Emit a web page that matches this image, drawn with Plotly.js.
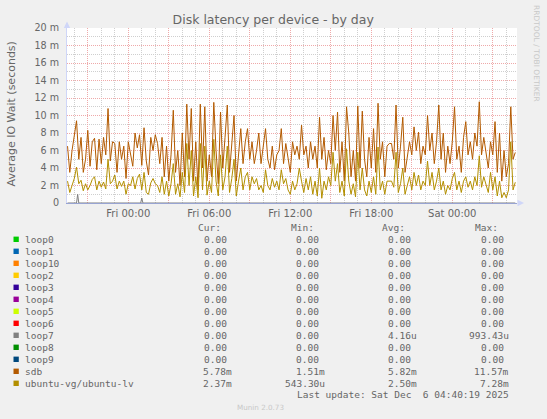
<!DOCTYPE html>
<html>
<head>
<meta charset="utf-8">
<script src="https://cdn.plot.ly/plotly-3.0.1.min.js"></script>
<style>
  html, body { margin: 0; padding: 0; background: #F0F0F0; }
  #chart { width: 547px; height: 419px; }
</style>
</head>
<body>
<div id="chart"></div>
<script>
// ---------------- DATA ----------------
// 10-minute samples, Thu 2025-12-04 19:30 .. Sat 2025-12-06 04:40 (values in milliseconds)
const sampleStart = '2025-12-04 19:30';
const sampleStepMinutes = 10;

const sdbValues = [
  6.5,3.5,6.0,8.0,9.4,5.0,7.5,3.5,5.0,8.3,4.2,7.0,7.4,3.8,7.3,4.5,7.5,5.5,10.8,4.8,
  7.0,6.8,3.5,7.0,5.0,6.5,2.8,7.0,5.8,4.2,8.0,6.3,7.8,4.3,8.6,4.8,3.2,7.5,6.0,7.8,
  6.8,4.5,7.5,3.0,6.5,2.5,5.5,10.6,3.5,6.0,2.0,8.0,3.0,11.3,5.0,10.8,2.5,7.0,1.51,11.3,
  4.0,11.0,2.5,5.5,3.0,11.5,6.0,2.2,10.4,4.0,7.5,11.2,3.5,6.5,10.0,2.5,5.5,8.5,4.5,7.0,
  8.5,5.0,7.0,4.5,6.0,8.0,4.5,6.5,8.5,5.0,4.0,6.5,3.8,5.5,6.0,8.5,4.5,6.8,5.0,3.5,
  7.0,5.5,6.5,5.0,8.9,5.5,6.5,4.0,7.0,5.0,6.5,4.0,9.8,5.0,7.5,3.8,6.0,4.5,10.0,6.0,
  10.4,3.5,7.0,2.5,11.0,8.0,3.0,6.0,2.5,11.1,4.0,10.5,5.0,3.0,7.5,4.0,8.5,3.5,11.4,5.0,
  7.0,3.0,6.5,6.8,6.8,5.0,11.2,4.0,6.5,9.8,3.5,5.5,7.0,5.5,8.7,6.0,8.1,4.5,6.5,5.5,
  10.0,6.0,8.0,4.5,7.0,11.2,5.0,8.0,3.5,6.5,4.5,7.0,11.0,5.0,6.5,3.5,7.5,9.3,5.5,7.0,
  5.0,8.0,6.5,11.57,5.5,7.5,6.0,4.0,7.0,5.5,9.3,3.5,8.0,2.5,6.0,3.0,4.5,11.0,5.0,5.78
];

const ubuntuLvValues = [
  2.5,1.2,2.0,2.8,4.1,2.2,2.6,1.4,2.2,1.5,2.0,2.7,3.0,1.5,2.5,1.8,2.4,1.6,5.0,2.2,
  2.5,3.2,1.6,2.5,1.9,2.5,1.0,2.2,2.0,3.0,1.6,2.8,3.3,1.5,3.5,1.2,1.0,2.3,2.8,2.2,
  2.0,1.2,3.0,1.0,2.5,0.8,2.2,4.5,1.0,2.2,0.7,3.5,1.2,6.8,2.0,6.0,0.8,3.0,0.6,6.8,
  1.5,6.5,0.9,2.5,1.2,7.28,2.5,0.8,5.5,1.5,3.0,6.5,1.2,2.8,5.0,0.8,2.5,4.0,1.5,3.0,
  3.5,1.5,3.0,2.2,2.8,1.5,2.0,1.2,3.8,2.0,1.5,2.8,1.8,2.5,1.5,3.8,2.2,2.8,1.5,1.0,
  2.5,1.5,2.2,4.0,2.5,1.2,2.8,1.5,3.0,1.0,2.5,0.8,4.0,0.54,2.5,1.5,3.0,2.0,5.8,2.5,
  4.5,1.2,2.5,0.8,6.2,2.5,1.0,2.2,0.7,5.8,1.5,4.0,1.5,0.8,2.5,1.2,3.0,1.0,6.4,1.5,
  2.5,1.0,2.5,2.5,2.5,1.8,5.8,1.2,2.2,4.0,1.0,2.0,3.0,1.5,3.5,2.0,3.2,1.5,2.5,2.0,
  4.8,2.0,3.5,1.5,2.5,4.0,1.5,2.5,1.0,2.0,1.5,2.8,3.5,1.5,2.5,1.2,2.5,3.0,1.8,2.5,
  1.5,3.0,2.0,5.4,1.8,3.0,2.0,1.2,3.5,1.5,3.0,0.8,2.5,0.6,1.2,0.6,1.5,7.0,1.5,2.37
];

// loop7: zero except two short spikes
const loop7Times  = ['2025-12-04 19:30','2025-12-04 20:10','2025-12-04 20:15','2025-12-04 20:20',
                     '2025-12-05 00:55','2025-12-05 01:00','2025-12-05 01:05','2025-12-06 04:40'];
const loop7Values = [0, 0, 0.99, 0, 0, 0.57, 0, 0];

// axis ticks
const xTickVals = ['2025-12-04 21:00','2025-12-05 00:00','2025-12-05 03:00','2025-12-05 06:00',
                   '2025-12-05 09:00','2025-12-05 12:00','2025-12-05 15:00','2025-12-05 18:00',
                   '2025-12-05 21:00','2025-12-06 00:00','2025-12-06 03:00'];
const xTickText = ['','Fri 00:00','','Fri 06:00','','Fri 12:00','','Fri 18:00','','Sat 00:00',''];
const yTickVals = [0,2,4,6,8,10,12,14,16,18,20];
const yTickText = ['0','2 m','4 m','6 m','8 m','10 m','12 m','14 m','16 m','18 m','20 m'];

// legend table
const legendNames = ['loop0','loop1','loop10','loop2','loop3','loop4','loop5','loop6',
                     'loop7','loop8','loop9','sdb','ubuntu-vg/ubuntu-lv'];
const legendCur = ['0.00','0.00','0.00','0.00','0.00','0.00','0.00','0.00','0.00','0.00','0.00','5.78m','2.37m'];
const legendMin = ['0.00','0.00','0.00','0.00','0.00','0.00','0.00','0.00','0.00','0.00','0.00','1.51m','543.30u'];
const legendAvg = ['0.00','0.00','0.00','0.00','0.00','0.00','0.00','0.00','4.16u','0.00','0.00','5.82m','2.50m'];
const legendMax = ['0.00','0.00','0.00','0.00','0.00','0.00','0.00','0.00','993.43u','0.00','0.00','11.57m','7.28m'];

// ---------------- STYLE ----------------
const seriesColors = {
  'loop0':'#00CC00','loop1':'#0066B3','loop10':'#FF8000','loop2':'#FFCC00','loop3':'#330099',
  'loop4':'#990099','loop5':'#CCFF00','loop6':'#FF0000','loop7':'#808080','loop8':'#008F00',
  'loop9':'#00487D','sdb':'#B35A00','ubuntu-vg/ubuntu-lv':'#B38F00'
};

function pad2(n){ return (n < 10 ? '0' : '') + n; }
function buildTimes(start, stepMin, count){
  const m = start.match(/(\d+)-(\d+)-(\d+) (\d+):(\d+)/);
  const t0 = Date.UTC(+m[1], +m[2]-1, +m[3], +m[4], +m[5]);
  const out = [];
  for (let i = 0; i < count; i++){
    const d = new Date(t0 + i*stepMin*60000);
    out.push(d.getUTCFullYear()+'-'+pad2(d.getUTCMonth()+1)+'-'+pad2(d.getUTCDate())+' '+
             pad2(d.getUTCHours())+':'+pad2(d.getUTCMinutes()));
  }
  return out;
}
const sampleTimes = buildTimes(sampleStart, sampleStepMinutes, sdbValues.length);

const W = 547, H = 419;
const L = 67, R = 517, T = 28, B = 203;
const px = x => (x - L) / (R - L);
const py = y => (B - y) / (B - T);

const traces = [
  { x: loop7Times, y: loop7Values, type:'scatter', mode:'lines', name:'loop7',
    line:{color:seriesColors['loop7'], width:1}, hoverinfo:'skip' },
  { x: sampleTimes, y: sdbValues, type:'scatter', mode:'lines', name:'sdb',
    line:{color:seriesColors['sdb'], width:1}, hoverinfo:'skip' },
  { x: sampleTimes, y: ubuntuLvValues, type:'scatter', mode:'lines', name:'ubuntu-vg/ubuntu-lv',
    line:{color:seriesColors['ubuntu-vg/ubuntu-lv'], width:1}, hoverinfo:'skip' }
];

const textColor = '#666666';
const mono = 'DejaVu Sans Mono';
const sans = 'DejaVu Sans';
const monoSize = 9.5;
const charW = 5.72;

const annotations = [];
const shapes = [];
function ann(x, y, text, opts){
  annotations.push(Object.assign({
    xref:'paper', yref:'paper', x:px(x), y:py(y), text:text, showarrow:false,
    xanchor:'left', yanchor:'middle', borderpad:0, borderwidth:0,
    font:{family:mono, size:monoSize, color:textColor}
  }, opts || {}));
}

// y axis title
ann(10.5, 114, 'Average IO Wait (seconds)', {xanchor:'center', textangle:-90,
    font:{family:sans, size:11, color:textColor}});
// RRDTOOL watermark
ann(537, 53, 'RRDTOOL / TOBI OETIKER', {xanchor:'center', textangle:90,
    font:{family:sans, size:7.5, color:'#C8C8C8'}});

// legend headers
const colRight = [232.3, 325, 416.7, 509.3];
const headers = ['Cur:','Min:','Avg:','Max:'];
headers.forEach((h, j) => ann(colRight[j] - 2*charW, 227.3, h, {xanchor:'right'}));

const cols = [legendCur, legendMin, legendAvg, legendMax];
legendNames.forEach((name, i) => {
  const yy = 239.3 + 12*i;
  shapes.push({type:'rect', xref:'paper', yref:'paper',
    x0:px(13.5), x1:px(18.8), y0:py(yy+2.7), y1:py(yy-2.7),
    fillcolor:seriesColors[name], line:{width:0}});
  ann(25, yy, name);
  cols.forEach((col, j) => {
    const v = col[i];
    const hasSuffix = /[a-z]$/.test(v);
    ann(colRight[j] - (hasSuffix ? 0 : charW), yy, v, {xanchor:'right'});
  });
});
ann(509.3, 395, 'Last update: Sat Dec \u00A06 04:40:19 2025', {xanchor:'right'});
ann(260.7, 407.7, 'Munin 2.0.73', {xanchor:'center', font:{family:sans, size:7.2, color:'#C8C8C8'}});

// axis arrows
const axisColor = '#CFD6F8';
shapes.push({type:'path', xref:'paper', yref:'paper',
  path:`M ${px(63.8)} ${py(28)} L ${px(67)} ${py(21.5)} L ${px(70.2)} ${py(28)} Z`,
  fillcolor:axisColor, line:{width:0}});
shapes.push({type:'path', xref:'paper', yref:'paper',
  path:`M ${px(517.5)} ${py(199.8)} L ${px(524)} ${py(203)} L ${px(517.5)} ${py(206.2)} Z`,
  fillcolor:axisColor, line:{width:0}});

const layout = {
  width:W, height:H,
  margin:{l:L, r:W-R, t:T, b:H-B, pad:0},
  paper_bgcolor:'#F0F0F0', plot_bgcolor:'#FFFFFF',
  showlegend:false,
  title:{text:'Disk latency per device - by day', x:273.2/W, xanchor:'center',
         y:1-19.3/H, yanchor:'middle', xref:'container', yref:'container',
         font:{family:sans, size:12.5, color:textColor}},
  xaxis:{
    type:'date', range:['2025-12-04 19:27:36','2025-12-06 04:47:36'],
    tickmode:'array', tickvals:xTickVals, ticktext:xTickText,
    ticks:'outside', ticklen:1, tickcolor:'rgba(0,0,0,0)',
    tickfont:{family:sans, size:10, color:textColor},
    showgrid:true, gridcolor:'#EFA9A9', griddash:'1px,1px', gridwidth:1,
    minor:{tickmode:'linear', tick0:'2025-12-04 00:00', dtick:3600000, showgrid:true,
           gridcolor:'#CFCFCF', griddash:'1px,1px', gridwidth:1, ticks:''},
    showline:true, linecolor:'#98A4D2', linewidth:1,
    zeroline:false, fixedrange:true
  },
  yaxis:{
    range:[0,20], tickmode:'array', tickvals:yTickVals, ticktext:yTickText,
    ticks:'outside', ticklen:5, tickcolor:'rgba(0,0,0,0)',
    tickfont:{family:sans, size:9.6, color:textColor},
    showgrid:true, gridcolor:'#EFA9A9', griddash:'1px,1px', gridwidth:1,
    minor:{tickmode:'linear', tick0:0, dtick:1, showgrid:true,
           gridcolor:'#CFCFCF', griddash:'1px,1px', gridwidth:1, ticks:''},
    showline:true, linecolor:axisColor, linewidth:1,
    zeroline:false, fixedrange:true
  },
  annotations:annotations,
  shapes:shapes
};

Plotly.newPlot('chart', traces, layout, {staticPlot:true, displayModeBar:false});
</script>
</body>
</html>
